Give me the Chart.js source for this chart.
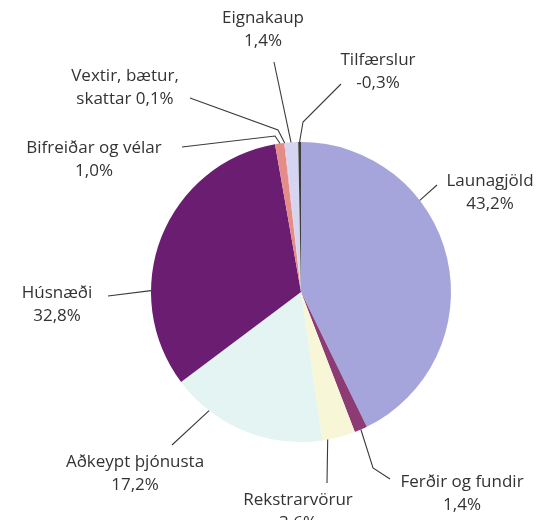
<!DOCTYPE html>
<html>
<head>
<meta charset="utf-8">
<script src="https://cdn.jsdelivr.net/npm/chart.js@4/dist/chart.umd.min.js"></script>
<style>
  html, body { margin: 0; padding: 0; background: #fff; }
  #wrap { width: 541px; height: 520px; }
</style>
</head>
<body>
<div id="wrap"><canvas id="pieChart" width="541" height="520"></canvas></div>
<script>
const categories = [
  "Launagjöld",
  "Ferðir og fundir",
  "Rekstrarvörur",
  "Aðkeypt þjónusta",
  "Húsnæði",
  "Bifreiðar og vélar",
  "Vextir, bætur, skattar",
  "Eignakaup",
  "Tilfærslur",
];
const shares = [43.2, 1.4, 3.6, 17.2, 32.8, 1.0, 0.1, 1.4, -0.3];
const sliceColors = [
  "#a5a5dc", "#8c3b74", "#f7f6d6", "#e3f4f2", "#6b1d72",
  "#e48c88", "#e9b7c4", "#d5d5f2", "#3e3e3e",
];

// label placement: text centre, words of the name on line one, where on the slice the leader starts, bends
const labelLayout = [
  { x: 490, y: 181, at: 0.34, path: [[437, 185]] },
  { x: 462, y: 482, at: 0.5, path: [[373, 468], [390, 479]] },
  { x: 298, y: 500, at: 0.84, path: [[327, 483]] },
  { x: 135, y: 462, at: 0.75, path: [[172, 445]] },
  { x: 57, y: 293, at: 0.32, path: [[108, 296]] },
  { x: 94, y: 148, at: 0.55, path: [[275, 136], [182, 147]] },
  { x: 125, y: 76, at: 0.5, words: 2, path: [[278, 130], [190, 98]] },
  { x: 263, y: 18, at: 0.45, path: [[274, 62]] },
  { x: 378, y: 60, at: 0.5, path: [[303, 122], [341, 84]] },
];

function formatShare(v) {
  return v.toFixed(1).replace(".", ",") + "%";
}

function labelLines(i) {
  const name = categories[i];
  const value = formatShare(shares[i]);
  const split = labelLayout[i].words;
  if (!split) return [name, value];
  const words = name.split(" ");
  return [words.slice(0, split).join(" "), words.slice(split).join(" ") + " " + value];
}

const leaderLabels = {
  id: "leaderLabels",
  afterDatasetsDraw(chart) {
    const ctx = chart.ctx;
    const arcs = chart.getDatasetMeta(0).data;
    ctx.save();
    ctx.strokeStyle = "#3a3a3a";
    ctx.lineWidth = 1.1;
    ctx.fillStyle = "#333333";
    ctx.font = '17px "Open Sans", sans-serif';
    ctx.textAlign = "center";
    ctx.textBaseline = "middle";
    arcs.forEach((arc, i) => {
      const lay = labelLayout[i];
      const p = arc.getProps(["x", "y", "startAngle", "endAngle", "outerRadius"], true);
      const a = p.startAngle + (p.endAngle - p.startAngle) * lay.at;
      ctx.beginPath();
      ctx.moveTo(p.x + Math.cos(a) * p.outerRadius, p.y + Math.sin(a) * p.outerRadius);
      lay.path.forEach(([px, py]) => ctx.lineTo(px, py));
      ctx.stroke();
      labelLines(i).forEach((line, k) => {
        ctx.fillText(line, lay.x, lay.y + k * 23);
      });
    });
    ctx.restore();
  },
};

new Chart(document.getElementById("pieChart").getContext("2d"), {
  type: "pie",
  data: {
    labels: categories,
    datasets: [
      {
        data: shares,
        backgroundColor: sliceColors,
        borderWidth: 0,
      },
    ],
  },
  options: {
    responsive: false,
    animation: false,
    layout: { padding: { left: 151, right: 90, top: 142, bottom: 78 } },
    plugins: {
      legend: { display: false },
      tooltip: { enabled: false },
    },
  },
  plugins: [leaderLabels],
});
</script>
</body>
</html>
